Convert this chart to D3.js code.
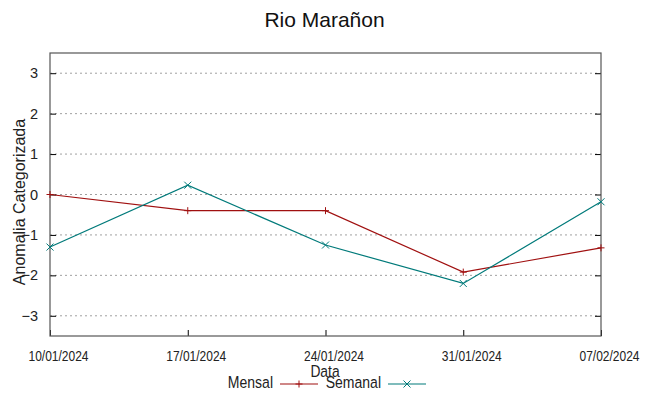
<!DOCTYPE html>
<html>
<head>
<meta charset="utf-8">
<script src="https://cdn.jsdelivr.net/npm/d3@7"></script>
<style>
body{margin:0;background:#fff;}
text{font-family:"Liberation Sans",Arial,sans-serif;}
</style>
</head>
<body>
<script>
var dates = ["10/01/2024","17/01/2024","24/01/2024","31/01/2024","07/02/2024"];
var mensal = [0, -0.4, -0.4, -1.92, -1.32];
var semanal = [-1.3, 0.23, -1.25, -2.2, -0.18];
var yTicks = [-3,-2,-1,0,1,2,3];

var width = 649, height = 396;
var margin = {left:50,right:48,top:53,bottom:60};

var svg = d3.select("body").append("svg").attr("width",width).attr("height",height);

var parse = d3.timeParse("%d/%m/%Y");
var x = d3.scaleTime()
	.domain([parse(dates[0]), parse(dates[dates.length-1])])
	.range([margin.left, width-margin.right]);
var y = d3.scaleLinear().domain([-3.5,3.5]).range([height-margin.bottom, margin.top]);

// grid
svg.append("g").selectAll("line")
	.data(yTicks)
	.enter().append("line")
		.attr("x1",margin.left).attr("x2",width-margin.right)
		.attr("y1",function(d){ return y(d); }).attr("y2",function(d){ return y(d); })
		.attr("stroke","#a0a0a0").attr("stroke-width",1).attr("stroke-dasharray","2,3");

// y axis left + right mirror
var yAxis = svg.append("g").attr("transform","translate("+margin.left+",0)")
	.call(d3.axisLeft(y).tickValues(yTicks).tickSize(-6).tickPadding(12).tickFormat(d3.format("d")));
yAxis.select(".domain").remove();
yAxis.selectAll("text").attr("font-size",14.5).attr("fill","#222");

var yAxisR = svg.append("g").attr("transform","translate("+(width-margin.right)+",0)")
	.call(d3.axisRight(y).tickValues(yTicks).tickSize(-6).tickFormat(""));
yAxisR.select(".domain").remove();

// x axis (labels sit a bit right of the ticks, condensed)
var xAxis = svg.append("g").attr("transform","translate(0,"+(height-margin.bottom)+")")
	.call(d3.axisBottom(x).tickValues(dates.map(parse)).tickSize(-6).tickFormat(d3.timeFormat("%d/%m/%Y")));
xAxis.select(".domain").remove();
xAxis.selectAll("text")
	.attr("y",null).attr("dy",null)
	.attr("font-size",15).attr("fill","#222")
	.attr("transform","translate(8,25) scale(0.8,1)");

// border
svg.append("rect")
	.attr("x",margin.left).attr("y",margin.top)
	.attr("width",width-margin.left-margin.right).attr("height",height-margin.top-margin.bottom)
	.attr("fill","none").attr("stroke","#555").attr("stroke-width",1.2);

var series = [
	{name:"Mensal", values:mensal, color:"#a01010", mark:"plus"},
	{name:"Semanal", values:semanal, color:"#007a7a", mark:"cross"}
];

var line = d3.line()
	.x(function(d,i){ return x(parse(dates[i])); })
	.y(function(d){ return y(d); });

function marker(g, mark, color){
	var s = 3.5;
	if(mark=="plus"){
		g.append("path").attr("d","M"+(-s)+",0H"+s+"M0,"+(-s)+"V"+s);
	} else {
		g.append("path").attr("d","M"+(-s)+","+(-s)+"L"+s+","+s+"M"+(-s)+","+s+"L"+s+","+(-s));
	}
	g.selectAll("path").attr("stroke",color).attr("stroke-width",1).attr("fill","none");
}

series.forEach(function(s){
	svg.append("path").datum(s.values)
		.attr("d",line).attr("fill","none").attr("stroke",s.color).attr("stroke-width",1.2);
	svg.append("g").selectAll("g")
		.data(s.values)
		.enter().append("g")
			.attr("transform",function(d,i){ return "translate("+x(parse(dates[i]))+","+y(d)+")"; })
			.each(function(){ marker(d3.select(this), s.mark, s.color); });
});

// title and labels
svg.append("text").attr("x",width/2).attr("y",27).attr("text-anchor","middle")
	.attr("font-size",21).attr("fill","#111").text("Rio Marañon");

svg.append("text").attr("transform","translate(25,202) rotate(-90)")
	.attr("text-anchor","middle").attr("font-size",16).attr("fill","#222").text("Anomalia Categorizada");

svg.append("text").attr("transform","translate(325,377) scale(0.84,1)").attr("text-anchor","middle")
	.attr("font-size",16.5).attr("fill","#222").text("Data");

// legend
var legend = svg.append("g");
var legX = [273, 381];
series.forEach(function(s,i){
	legend.append("text").attr("transform","translate("+legX[i]+",388) scale(0.85,1)").attr("text-anchor","end")
		.attr("font-size",16.5).attr("fill","#222").text(s.name);
	legend.append("line").attr("x1",legX[i]+7).attr("x2",legX[i]+45).attr("y1",384).attr("y2",384)
		.attr("stroke",s.color).attr("stroke-width",1.2);
	var g = legend.append("g").attr("transform","translate("+(legX[i]+26)+",384)");
	marker(g, s.mark, s.color);
});
</script>
</body>
</html>
